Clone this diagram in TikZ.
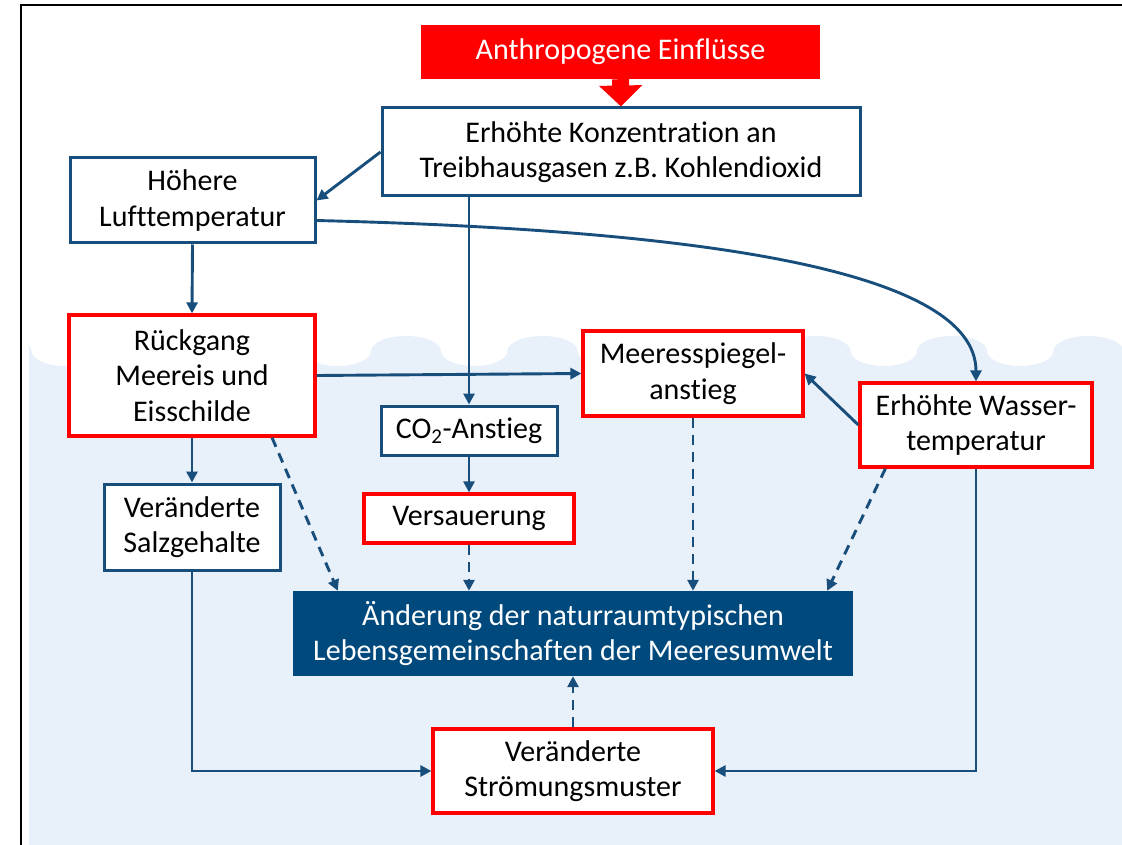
\documentclass[tikz,border=0pt]{standalone}
\usepackage{fontspec}
\setmainfont{Carlito}[Ligatures=CommonOff]
\usetikzlibrary{arrows.meta,calc}
\definecolor{lineblue}{RGB}{24,78,124}
\definecolor{darkbox}{RGB}{0,73,125}
\definecolor{water}{RGB}{232,240,250}
\definecolor{pptred}{RGB}{255,0,0}
\tikzset{
  txt/.style={font=\fontsize{30}{35.5}\selectfont, align=center, inner sep=0pt},
  bluebox/.style={txt, draw=lineblue, line width=3pt, fill=white},
  redbox/.style={txt, draw=pptred, line width=3.2pt, fill=white},
  conn/.style={draw=lineblue, line width=2.9pt, -{Triangle[length=11pt,width=11pt]}},
  dconn/.style={conn, dash pattern=on 10pt off 7pt},
}
\begin{document}
\begin{tikzpicture}[x=1pt,y=-1pt]
\useasboundingbox (0,0) rectangle (1122,845);
% water
\begin{scope}
\clip (29,300) rectangle (1122,845);
\fill[water] (-38.5,845) -- (-38.5,351)
  \foreach \i in {0,...,8} {
    .. controls ({-38.5+136.5*\i},342.72) and ({-38.5+136.5*\i+15.67},336) .. ({-38.5+136.5*\i+35},336)
    .. controls ({-38.5+136.5*\i+54.33},336) and ({-38.5+136.5*\i+70},342.72) .. ({-38.5+136.5*\i+70},351)
    .. controls ({-38.5+136.5*\i+70},359.28) and ({-38.5+136.5*\i+84.89},366) .. ({-38.5+136.5*\i+103.25},366)
    .. controls ({-38.5+136.5*\i+121.61},366) and ({-38.5+136.5*\i+136.5},359.28) .. ({-38.5+136.5*\i+136.5},351)
  } -- (1200,351) -- (1200,845) -- cycle;
\end{scope}
% frame
\draw[black, line width=2pt] (21,845) -- (21,5) -- (1122,5);
% nodes
\node[txt, fill=pptred, text=white, minimum width=399, minimum height=54] (anth) at (620.5,52) {Anthropogene Einflüsse};
\node[bluebox, minimum width=478, minimum height=88] (konz) at (621,152) {Erhöhte Konzentration an\\Treibhausgasen z.B. Kohlendioxid};
\node[bluebox, minimum width=245, minimum height=85] (hoeh) at (192.5,200.5) {Höhere\\Lufttemperatur};
\node[redbox, minimum width=246, minimum height=121] (rueck) at (192,375.5) {Rückgang\\Meereis und\\Eisschilde};
\node[bluebox, minimum width=176, minimum height=49] (co2) at (469,430.5) {CO\textsubscript{2}-Anstieg};
\node[redbox, minimum width=220, minimum height=85] (meer) at (693,373.5) {Meeresspiegel-\\anstieg};
\node[redbox, minimum width=232, minimum height=84] (wass) at (976,425) {Erhöhte Wasser-\\temperatur};
\node[bluebox, minimum width=176, minimum height=86] (salz) at (192,527) {Veränderte\\Salzgehalte};
\node[redbox, minimum width=210, minimum height=49] (vers) at (469,518.5) {Versauerung};
\node[txt, fill=darkbox, text=white, minimum width=560, minimum height=85] (aend) at (573,633.5) {Änderung der naturraumtypischen\\Lebensgemeinschaften der Meeresumwelt};
\node[redbox, minimum width=280, minimum height=84] (stroem) at (573,771) {Veränderte\\Strömungsmuster};
% block arrow
\draw[pptred, line width=17pt, -{Triangle[length=21pt,width=42pt]}] (anth.south) -- (konz.north);
% connectors
\draw[conn] (konz.west) -- (hoeh.east);
\draw[conn] ($(hoeh.east)+(0,20)$) .. controls (700,230) and (976,270) .. (wass.north);
\draw[conn] (hoeh.south) -- (rueck.north);
\draw[conn] (co2.north |- konz.south) -- (co2.north);
\draw[conn] (rueck.east) -- (meer.west);
\draw[conn] (wass.west) -- (meer.east);
\draw[conn] (rueck.south) -- (salz.north);
\draw[conn] (co2.south) -- (vers.north);
\draw[dconn] ($(rueck.south)+(80,0)$) -- ($(aend.north west)+(45,0)$);
\draw[dconn] (vers.south) -- (vers.south |- aend.north);
\draw[dconn] (meer.south) -- (meer.south |- aend.north);
\draw[dconn] ($(wass.south west)+(27,0)$) -- ($(aend.north east)+(-26,0)$);
\draw[dconn] (stroem.north) -- (aend.south);
\draw[conn] (salz.south) -- (salz.south |- stroem.west) -- (stroem.west);
\draw[conn] (wass.south) -- (wass.south |- stroem.east) -- (stroem.east);
\end{tikzpicture}
\end{document}
